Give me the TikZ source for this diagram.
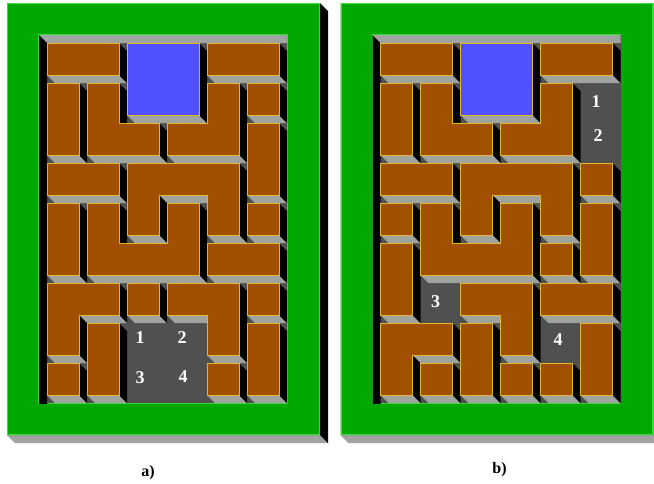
\documentclass[tikz,border=0pt]{standalone}
\usepackage{fontspec}
\setmainfont{Liberation Serif}
\definecolor{frgreen}{HTML}{00A800}
\definecolor{frline}{HTML}{38DC38}
\definecolor{pbrown}{HTML}{A05000}
\definecolor{pline}{HTML}{E0B830}
\definecolor{sidegrey}{HTML}{A0A4A0}
\definecolor{floorgrey}{HTML}{505050}
\definecolor{pblue}{HTML}{5050FF}
\tikzset{
  face/.style={fill=pbrown, draw=pline, line width=0.8pt},
  digit/.style={text=white, inner sep=0pt, font=\bfseries\fontsize{18}{18}\selectfont},
  lab/.style={text=black, inner sep=0pt, font=\bfseries\fontsize{16}{16}\selectfont}
}
% grey bottom face below a horizontal edge xa..xb at height y
\newcommand\bfc[3]{\fill[sidegrey] (#1,#3) -- (#2,#3) -- ({#2+8},{#3+8}) -- ({#1+8},{#3+8}) -- cycle;}
% black right face beside a vertical edge at x from ya to yb
\newcommand\rfc[3]{\fill[black] (#1,#2) -- ({#1+8},{#2+8}) -- ({#1+8},{#3+8}) -- (#1,#3) -- cycle;}
% rectangular piece: shadows / face, cells c1 r1 c2 r2
\newcommand\rps[4]{\pgfmathsetmacro\pxa{47+40*#1}\pgfmathsetmacro\pxb{79+40*#3}%
  \pgfmathsetmacro\pya{43+40*#2}\pgfmathsetmacro\pyb{75+40*#4}%
  \bfc{\pxa}{\pxb}{\pyb}\rfc{\pxb}{\pya}{\pyb}}
\newcommand\rpf[5][pbrown]{\pgfmathsetmacro\pxa{47+40*#2}\pgfmathsetmacro\pxb{79+40*#4}%
  \pgfmathsetmacro\pya{43+40*#3}\pgfmathsetmacro\pyb{75+40*#5}%
  \draw[face,fill=#1] (\pxa,\pya) rectangle (\pxb,\pyb);}
\newcommand\frameparts{%
  \bfc{7}{320}{435}\rfc{320}{3}{435}%
  \fill[frgreen,even odd rule] (7,3) rectangle (320,435) (39,35) rectangle (287,403);
  \draw[frline,line width=1.2pt] (7.6,3.6) rectangle (319.4,434.4) (39,35) rectangle (287,403);
  \fill[floorgrey] (39,35) rectangle (287,403);
  \begin{scope}\clip (39,35) rectangle (287,403); \bfc{39}{287}{35}\rfc{39}{35}{403}\end{scope}}
% shadows shared by both panels
\newcommand\commonshadows{%
  \rps{0}{0}{1}{0}\rps{4}{0}{5}{0}\rps{2}{0}{3}{1}\rps{0}{1}{0}{2}\rps{0}{3}{1}{3}%
  \rfc{119}{83}{123}\rfc{159}{123}{155}\bfc{87}{159}{155}%
  \rfc{239}{83}{155}\bfc{167}{239}{155}%
  \rfc{239}{163}{235}\bfc{207}{239}{235}\bfc{159}{207}{195}\rfc{159}{195}{235}\bfc{127}{159}{235}%
  \rfc{119}{203}{243}\rfc{199}{203}{275}\bfc{87}{199}{275}%
  \rps{5}{7}{5}{8}\rps{4}{8}{4}{8}}
\newcommand\commonfaces{%
  \rpf{0}{0}{1}{0}\rpf{4}{0}{5}{0}\rpf[pblue]{2}{0}{3}{1}\rpf{0}{1}{0}{2}\rpf{0}{3}{1}{3}%
  \draw[face] (87,83) -- (119,83) -- (119,123) -- (159,123) -- (159,155) -- (87,155) -- cycle;
  \draw[face] (207,83) -- (239,83) -- (239,155) -- (167,155) -- (167,123) -- (207,123) -- cycle;
  \draw[face] (127,163) -- (239,163) -- (239,235) -- (207,235) -- (207,195) -- (159,195) -- (159,235) -- (127,235) -- cycle;
  \draw[face] (87,203) -- (119,203) -- (119,243) -- (167,243) -- (167,203) -- (199,203) -- (199,275) -- (87,275) -- cycle;
  \rpf{5}{7}{5}{8}\rpf{4}{8}{4}{8}}
\begin{document}
\begin{tikzpicture}[x=1pt,y=-1pt]
\useasboundingbox (0,0) rectangle (654,483);
\fill[white] (0,0) rectangle (654,483);
\clip (0,0) rectangle (654,483);
% ---------------- panel a ----------------
\begin{scope}
  \frameparts
  \commonshadows
  \rps{5}{1}{5}{1}\rps{5}{2}{5}{3}\rps{5}{4}{5}{4}\rps{0}{4}{0}{5}\rps{4}{5}{5}{5}%
  \rps{2}{6}{2}{6}\rps{5}{6}{5}{6}\rps{1}{7}{1}{8}\rps{0}{8}{0}{8}%
  \rfc{119}{283}{315}\bfc{79}{119}{315}\rfc{79}{315}{355}\bfc{47}{79}{355}%
  \rfc{239}{283}{355}\bfc{207}{239}{355}\bfc{167}{207}{315}%
  \commonfaces
  \rpf{5}{1}{5}{1}\rpf{5}{2}{5}{3}\rpf{5}{4}{5}{4}\rpf{0}{4}{0}{5}\rpf{4}{5}{5}{5}%
  \rpf{2}{6}{2}{6}\rpf{5}{6}{5}{6}\rpf{1}{7}{1}{8}\rpf{0}{8}{0}{8}%
  \draw[face] (47,283) -- (119,283) -- (119,315) -- (79,315) -- (79,355) -- (47,355) -- cycle;
  \draw[face] (167,283) -- (239,283) -- (239,355) -- (207,355) -- (207,315) -- (167,315) -- cycle;
  \node[digit] (a1) at (140,338) {1};
  \node[digit] (a2) at (182,338) {2};
  \node[digit] (a3) at (140,378) {3};
  \node[digit] (a4) at (183,376.5) {4};
\end{scope}
% ---------------- panel b ----------------
\begin{scope}[xshift=333.5pt]
  \frameparts
  \commonshadows
  \rps{5}{3}{5}{3}\rps{0}{4}{0}{4}\rps{5}{4}{5}{5}\rps{4}{5}{4}{5}\rps{0}{5}{0}{6}%
  \rps{4}{6}{5}{6}\rps{2}{7}{2}{8}\rps{1}{8}{1}{8}\rps{3}{8}{3}{8}%
  \rfc{199}{283}{355}\bfc{167}{199}{355}\bfc{127}{167}{315}%
  \rfc{119}{323}{355}\bfc{79}{119}{355}\rfc{79}{355}{395}\bfc{47}{79}{395}%
  \commonfaces
  \rpf{5}{3}{5}{3}\rpf{0}{4}{0}{4}\rpf{5}{4}{5}{5}\rpf{4}{5}{4}{5}\rpf{0}{5}{0}{6}%
  \rpf{4}{6}{5}{6}\rpf{2}{7}{2}{8}\rpf{1}{8}{1}{8}\rpf{3}{8}{3}{8}%
  \draw[face] (127,283) -- (199,283) -- (199,355) -- (167,355) -- (167,315) -- (127,315) -- cycle;
  \draw[face] (47,323) -- (119,323) -- (119,355) -- (79,355) -- (79,395) -- (47,395) -- cycle;
  \node[digit] (b1) at (262.5,101.3) {1};
  \node[digit] (b2) at (264.5,136) {2};
  \node[digit] (b3) at (102,301.7) {3};
  \node[digit] (b4) at (224.5,339.3) {4};
\end{scope}
\node[lab,anchor=base] (la) at (148,476) {a)};
\node[lab,anchor=base] (lb) at (499.5,473.3) {b)};
\end{tikzpicture}
\end{document}
